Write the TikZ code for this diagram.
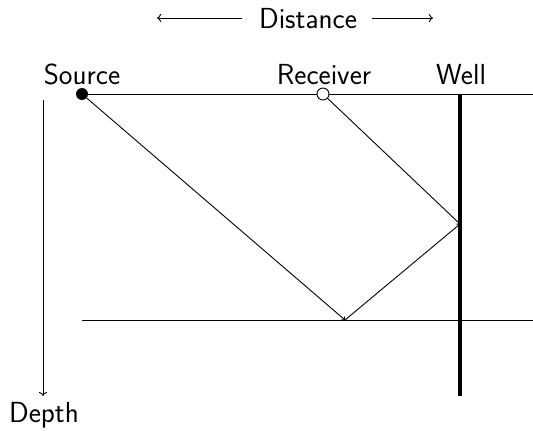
\documentclass[tikz,border=0pt]{standalone}
\usepackage{tikz}
\usetikzlibrary{arrows.meta}
\begin{document}
\begin{tikzpicture}[x=1pt,y=-1pt,
  lbl/.style={font=\sffamily\fontsize{29}{35}\selectfont, inner sep=0pt, anchor=base},
  thin line/.style={line width=0.9pt},
  ray/.style={line width=0.9pt, -{To[length=3pt,width=5pt]}},
  axis/.style={line width=0.9pt, -{To[length=4pt,width=8pt]}}]
\useasboundingbox (0,0) rectangle (533,431);
% labels
\node[lbl] (dist) at (308,28) {Distance};
\coordinate (dl) at (157,18);
\coordinate (dr) at (433,18);
\coordinate (dla) at (242,18);
\coordinate (dra) at (372,18);
\draw[axis] (dla) -- (dl);
\draw[axis] (dra) -- (dr);
\node[lbl] (srcl) at (82,84) {Source};
\node[lbl] (recl) at (324,84) {Receiver};
\node[lbl] (welll) at (461,84) {Well};
\node[lbl] (depth) at (44,422) {Depth};
% surface and reflector
\coordinate (s0) at (82,94);
\coordinate (s1) at (533,94);
\coordinate (r0) at (82,320);
\coordinate (r1) at (533,320);
\draw[thin line] (s0) -- (s1);
\draw[thin line] (r0) -- (r1);
% depth axis
\coordinate (d0) at (43,100);
\coordinate (d1) at (43,396);
\draw[axis] (d0) -- (d1);
% well
\coordinate (w0) at (460,94);
\coordinate (w1) at (460,396);
\draw[line width=3.2pt] (w0) -- (w1);
% ray path
\coordinate (refl) at (345,320);
\coordinate (wp) at (460,224);
\node[circle, fill=black, minimum size=12pt, inner sep=0pt] (src) at (82,94) {};
\node[circle, draw=black, fill=white, line width=0.9pt, minimum size=12pt, inner sep=0pt] (rec) at (323,94) {};
\draw[ray] (src) -- (refl);
\draw[ray] (refl) -- (wp);
\draw[thin line] (wp) -- (rec);
\end{tikzpicture}
\end{document}
